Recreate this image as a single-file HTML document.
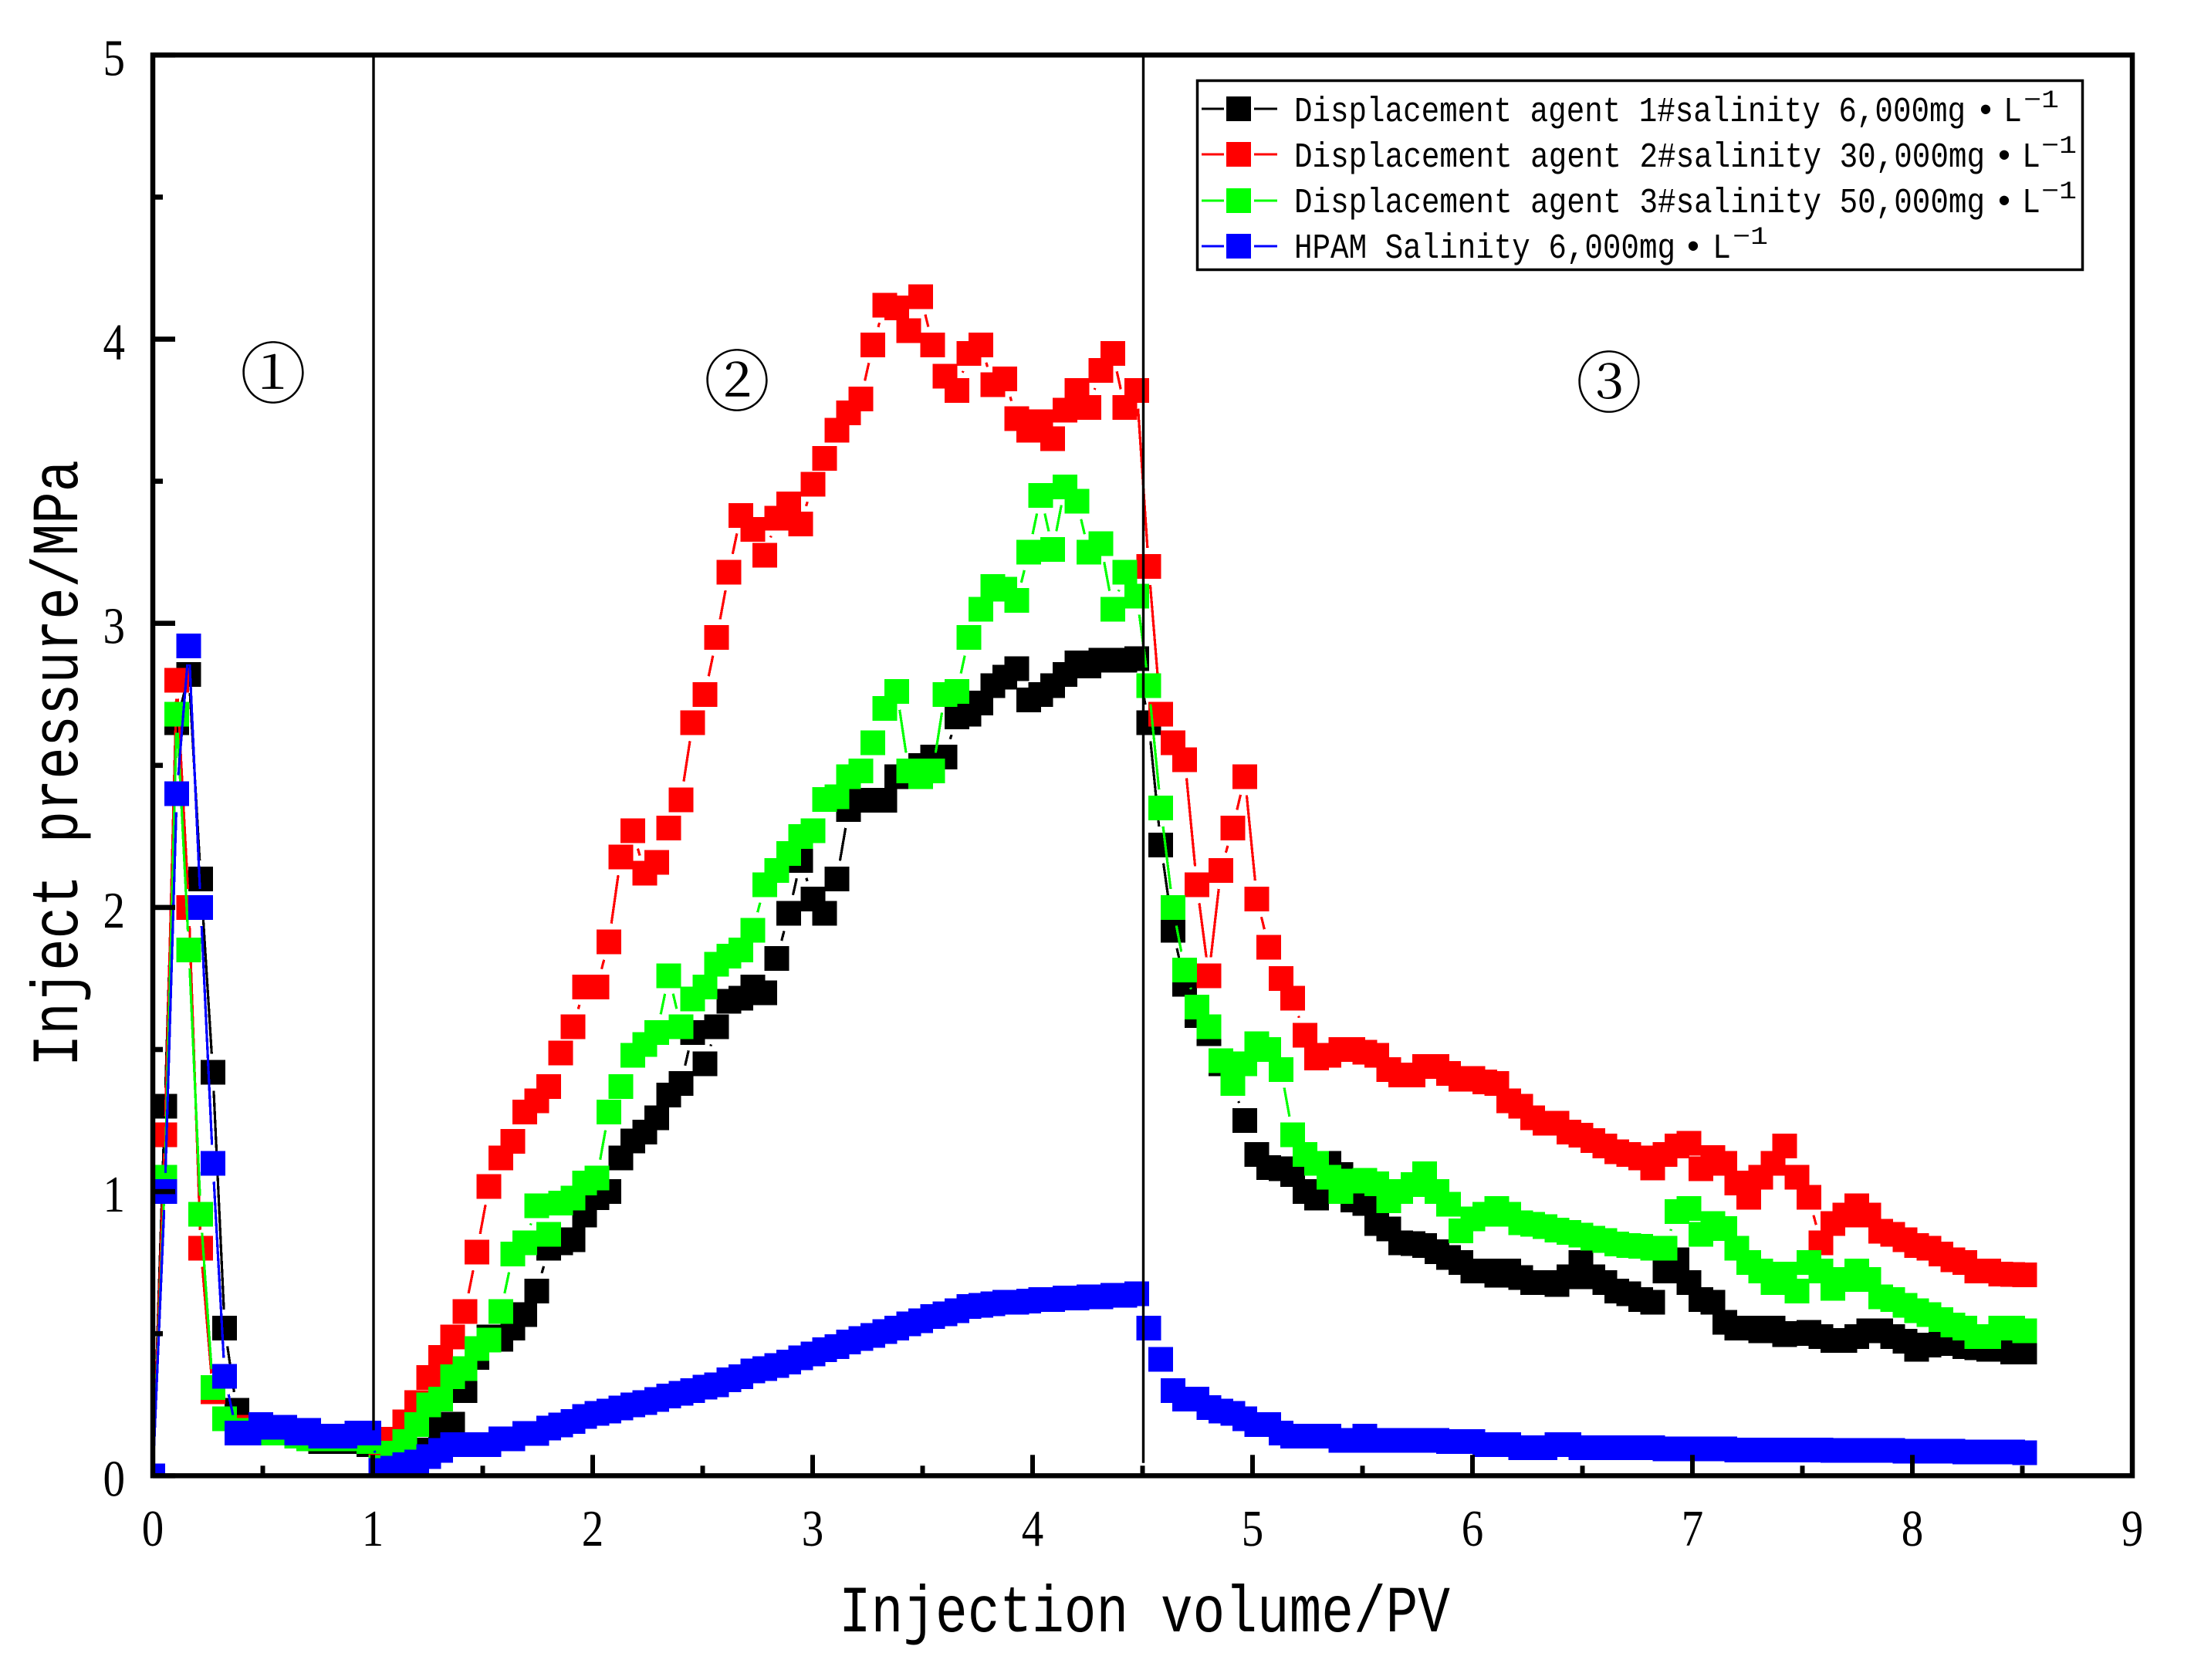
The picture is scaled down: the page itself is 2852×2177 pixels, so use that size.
<!DOCTYPE html>
<html lang="en">
<head>
<meta charset="utf-8">
<title>Inject pressure vs injection volume</title>
<style>
html,body{margin:0;padding:0;background:#fff;}
svg{display:block;}
text{fill:#000;}
.mono{font-family:"Liberation Mono",monospace;}
.serif{font-family:"Liberation Serif",serif;}
.cjk{font-family:"Liberation Serif","Noto Serif CJK SC",serif;}
</style>
</head>
<body>
<svg id="chart" xmlns="http://www.w3.org/2000/svg" width="2852" height="2177" viewBox="0 0 2852 2177">
  <rect x="0" y="0" width="2852" height="2177" fill="#fff"/>
  <defs><clipPath id="plot-clip"><rect x="198" y="71" width="2565" height="1841"/></clipPath></defs>
  <g id="series-layer" clip-path="url(#plot-clip)" shape-rendering="crispEdges"></g>
  <g id="axes-layer"></g>

  <text class="mono" x="1087" y="2114" font-size="85" textLength="792" lengthAdjust="spacingAndGlyphs">Injection volume/PV</text>
  <text class="mono" transform="translate(100,1382) rotate(-90)" x="0" y="0" font-size="85" textLength="786" lengthAdjust="spacingAndGlyphs">Inject pressure/MPa</text>

  <text class="cjk" x="354" y="515" font-size="86" text-anchor="middle">①</text>
  <text class="cjk" x="955" y="525" font-size="86" text-anchor="middle">②</text>
  <text class="cjk" x="2085" y="527" font-size="86" text-anchor="middle">③</text>

  <g>
    <rect x="1551.5" y="104.5" width="1147" height="245" fill="#fff" stroke="#000" stroke-width="3.5"/>

    <g>
      <line x1="1557" y1="141" x2="1586" y2="141" stroke="#000" stroke-width="3"/>
      <line x1="1625" y1="141" x2="1655" y2="141" stroke="#000" stroke-width="3"/>
      <rect x="1589" y="125" width="32" height="32" fill="#000"/>
      <text class="mono" x="1677" y="157" font-size="45" textLength="870" lengthAdjust="spacingAndGlyphs">Displacement agent 1#salinity 6,000mg</text>
      <text class="mono" x="2573" y="157" font-size="45" text-anchor="middle">•</text>
      <text class="mono" x="2596" y="157" font-size="45" textLength="24" lengthAdjust="spacingAndGlyphs">L</text>
      <text class="mono" x="2622" y="139" font-size="32" textLength="46" lengthAdjust="spacingAndGlyphs">−1</text>
    </g>

    <g>
      <line x1="1557" y1="200" x2="1586" y2="200" stroke="#f00" stroke-width="3"/>
      <line x1="1625" y1="200" x2="1655" y2="200" stroke="#f00" stroke-width="3"/>
      <rect x="1589" y="184" width="32" height="32" fill="#f00"/>
      <text class="mono" x="1677" y="216" font-size="45" textLength="895" lengthAdjust="spacingAndGlyphs">Displacement agent 2#salinity 30,000mg</text>
      <text class="mono" x="2597" y="216" font-size="45" text-anchor="middle">•</text>
      <text class="mono" x="2620" y="216" font-size="45" textLength="24" lengthAdjust="spacingAndGlyphs">L</text>
      <text class="mono" x="2645" y="198" font-size="32" textLength="46" lengthAdjust="spacingAndGlyphs">−1</text>
    </g>

    <g>
      <line x1="1557" y1="260" x2="1586" y2="260" stroke="#0f0" stroke-width="3"/>
      <line x1="1625" y1="260" x2="1655" y2="260" stroke="#0f0" stroke-width="3"/>
      <rect x="1589" y="244" width="32" height="32" fill="#0f0"/>
      <text class="mono" x="1677" y="275" font-size="45" textLength="895" lengthAdjust="spacingAndGlyphs">Displacement agent 3#salinity 50,000mg</text>
      <text class="mono" x="2597" y="275" font-size="45" text-anchor="middle">•</text>
      <text class="mono" x="2620" y="275" font-size="45" textLength="24" lengthAdjust="spacingAndGlyphs">L</text>
      <text class="mono" x="2645" y="257" font-size="32" textLength="46" lengthAdjust="spacingAndGlyphs">−1</text>
    </g>

    <g>
      <line x1="1557" y1="319" x2="1586" y2="319" stroke="#00f" stroke-width="3"/>
      <line x1="1625" y1="319" x2="1655" y2="319" stroke="#00f" stroke-width="3"/>
      <rect x="1589" y="303" width="32" height="32" fill="#00f"/>
      <text class="mono" x="1677" y="334" font-size="45" textLength="494" lengthAdjust="spacingAndGlyphs">HPAM Salinity 6,000mg</text>
      <text class="mono" x="2194" y="334" font-size="45" text-anchor="middle">•</text>
      <text class="mono" x="2219" y="334" font-size="45" textLength="24" lengthAdjust="spacingAndGlyphs">L</text>
      <text class="mono" x="2245" y="316" font-size="32" textLength="46" lengthAdjust="spacingAndGlyphs">−1</text>
    </g>
  </g>
</svg>

<script>
var injectionVolume = [
0,0.055,0.109,0.164,0.218,0.273,0.327,0.382,0.436,0.491,
0.546,0.600,0.655,0.709,0.764,0.818,0.873,0.928,0.982,1.037,
1.091,1.146,1.200,1.255,1.309,1.364,1.419,1.473,1.528,1.582,
1.637,1.691,1.746,1.800,1.855,1.910,1.964,2.019,2.073,2.128,
2.182,2.237,2.292,2.346,2.401,2.455,2.510,2.564,2.619,2.673,
2.728,2.783,2.837,2.892,2.946,3.001,3.055,3.110,3.164,3.219,
3.274,3.328,3.383,3.437,3.492,3.546,3.601,3.656,3.710,3.765,
3.819,3.874,3.928,3.983,4.037,4.092,4.147,4.201,4.256,4.310,
4.365,4.419,4.474,4.528,4.583,4.638,4.692,4.747,4.801,4.856,
4.910,4.965,5.020,5.074,5.129,5.183,5.238,5.292,5.347,5.401,
5.456,5.511,5.565,5.620,5.674,5.729,5.783,5.838,5.892,5.947,
6.002,6.056,6.111,6.165,6.220,6.274,6.329,6.384,6.438,6.493,
6.547,6.602,6.656,6.711,6.765,6.820,6.875,6.929,6.984,7.038,
7.093,7.147,7.202,7.256,7.311,7.366,7.420,7.475,7.529,7.584,
7.638,7.693,7.748,7.802,7.857,7.911,7.966,8.020,8.075,8.129,
8.184,8.239,8.293,8.348,8.402,8.457,8.511];

var agent1Pressure = [
0,1.30,2.65,2.82,2.10,1.42,0.52,0.23,0.17,0.16,
0.15,0.15,0.14,0.13,0.12,0.12,0.12,0.12,0.11,0.06,
0.04,0.05,0.07,0.09,0.163,0.182,0.30,0.417,0.489,0.48,
0.52,0.567,0.65,0.80,0.82,0.83,0.918,0.978,1.0,1.119,
1.178,1.21,1.26,1.34,1.38,1.56,1.45,1.58,1.67,1.68,
1.72,1.70,1.82,1.98,2.166,2.03,1.98,2.10,2.344,2.377,
2.377,2.377,2.46,2.48,2.50,2.53,2.53,2.67,2.68,2.72,
2.78,2.81,2.84,2.73,2.75,2.78,2.82,2.86,2.85,2.87,
2.87,2.87,2.875,2.65,2.22,1.92,1.73,1.62,1.556,1.45,
1.38,1.25,1.13,1.085,1.08,1.06,1.0,0.977,1.10,1.06,
0.97,0.958,0.888,0.868,0.82,0.817,0.81,0.788,0.768,0.75,
0.72,0.72,0.706,0.72,0.698,0.68,0.68,0.673,0.70,0.75,
0.70,0.68,0.65,0.64,0.62,0.61,0.72,0.76,0.68,0.62,
0.61,0.54,0.52,0.52,0.51,0.52,0.497,0.50,0.505,0.49,
0.476,0.476,0.49,0.51,0.51,0.49,0.474,0.445,0.46,0.47,
0.465,0.455,0.45,0.445,0.445,0.435,0.435];

var agent2Pressure = [
0,1.20,2.80,2.00,0.80,0.295,0.20,0.17,0.16,0.16,
0.16,0.16,0.15,0.15,0.14,0.14,0.14,0.14,0.13,0.04,
0.129,0.19,0.258,0.346,0.417,0.489,0.578,0.787,1.018,1.118,
1.177,1.28,1.32,1.369,1.488,1.58,1.72,1.72,1.879,2.178,
2.27,2.12,2.159,2.279,2.379,2.65,2.75,2.95,3.18,3.38,
3.33,3.24,3.37,3.42,3.35,3.49,3.58,3.68,3.74,3.79,
3.98,4.12,4.11,4.03,4.15,3.98,3.87,3.82,3.95,3.98,
3.84,3.86,3.72,3.68,3.71,3.65,3.75,3.82,3.76,3.89,
3.95,3.76,3.82,3.20,2.68,2.58,2.52,2.08,1.76,2.13,
2.28,2.46,2.03,1.86,1.75,1.68,1.55,1.47,1.48,1.50,
1.50,1.49,1.48,1.43,1.41,1.41,1.44,1.44,1.416,1.396,
1.398,1.386,1.38,1.32,1.30,1.26,1.24,1.24,1.21,1.198,
1.18,1.16,1.14,1.13,1.119,1.083,1.13,1.16,1.17,1.08,
1.12,1.10,1.03,0.98,1.05,1.10,1.16,1.05,0.98,0.82,
0.888,0.918,0.95,0.918,0.86,0.85,0.83,0.81,0.80,0.78,
0.76,0.75,0.72,0.72,0.71,0.708,0.707];

var agent3Pressure = [
0,1.05,2.68,1.85,0.92,0.31,0.20,0.16,0.15,0.15,
0.15,0.15,0.14,0.13,0.13,0.13,0.13,0.13,0.12,0.03,
0.079,0.12,0.18,0.25,0.27,0.348,0.377,0.448,0.478,0.578,
0.78,0.82,0.95,0.85,0.959,0.977,1.03,1.048,1.28,1.369,
1.48,1.518,1.56,1.76,1.58,1.678,1.72,1.80,1.828,1.85,
1.92,2.08,2.13,2.19,2.25,2.27,2.38,2.39,2.46,2.48,
2.58,2.70,2.76,2.48,2.46,2.48,2.75,2.76,2.95,3.05,
3.13,3.12,3.08,3.25,3.45,3.26,3.48,3.43,3.25,3.28,
3.05,3.18,3.095,2.78,2.35,2.00,1.78,1.65,1.58,1.46,
1.38,1.45,1.52,1.50,1.43,1.20,1.13,1.10,1.05,1.00,
1.037,1.04,1.027,0.968,1.0,1.025,1.063,1.00,0.955,0.862,
0.904,0.92,0.94,0.92,0.89,0.885,0.877,0.865,0.856,0.847,
0.836,0.828,0.816,0.81,0.808,0.80,0.80,0.93,0.94,0.85,
0.888,0.87,0.80,0.75,0.72,0.68,0.71,0.65,0.75,0.72,
0.66,0.69,0.72,0.69,0.63,0.62,0.60,0.58,0.567,0.55,
0.53,0.52,0.49,0.49,0.52,0.52,0.51];

var hpamPressure = [
0,1.00,2.40,2.92,2.00,1.10,0.35,0.15,0.15,0.18,
0.17,0.17,0.15,0.16,0.14,0.14,0.14,0.15,0.15,0.019,
0.027,0.039,0.049,0.068,0.089,0.109,0.109,0.109,0.109,0.13,
0.13,0.149,0.149,0.168,0.179,0.191,0.209,0.22,0.228,0.239,
0.25,0.258,0.269,0.281,0.29,0.30,0.312,0.32,0.337,0.348,
0.369,0.377,0.388,0.40,0.415,0.429,0.443,0.454,0.47,0.483,
0.494,0.508,0.52,0.535,0.545,0.56,0.57,0.58,0.595,0.60,
0.605,0.61,0.61,0.615,0.62,0.62,0.625,0.625,0.63,0.63,
0.635,0.635,0.64,0.52,0.41,0.30,0.27,0.27,0.24,0.228,
0.22,0.20,0.18,0.18,0.15,0.14,0.14,0.14,0.14,0.125,
0.125,0.14,0.125,0.125,0.125,0.125,0.125,0.125,0.12,0.12,
0.12,0.109,0.109,0.109,0.098,0.098,0.098,0.109,0.109,0.098,
0.098,0.098,0.098,0.098,0.098,0.098,0.094,0.094,0.094,0.094,
0.094,0.094,0.091,0.091,0.091,0.091,0.091,0.091,0.091,0.091,
0.089,0.089,0.089,0.089,0.089,0.089,0.086,0.086,0.086,0.086,
0.086,0.083,0.083,0.083,0.083,0.083,0.081];

var xTickValues = [0,1,2,3,4,5,6,7,8,9];
var yTickValues = [0,1,2,3,4,5];
var xMinorValues = [0.5,1.5,2.5,3.5,4.5,5.5,6.5,7.5,8.5];
var yMinorValues = [0.5,1.5,2.5,3.5,4.5];
var dividerValues = [1,4.5];
var dividerLowerEnds = [0.16,0.045];

var svgNS = 'http://www.w3.org/2000/svg';
var plotLeft = 198, plotRight = 2763, plotTop = 71.3, plotBottom = 1912.3;
var xMax = 9, yMax = 5;
var markerSize = 32, lineGap = 24;

function xScale(v){ return plotLeft + (plotRight - plotLeft) * v / xMax; }
function yScale(v){ return plotBottom - (plotBottom - plotTop) * v / yMax; }

function make(tag, attrs){
  var el = document.createElementNS(svgNS, tag);
  for (var k in attrs){ el.setAttribute(k, attrs[k]); }
  return el;
}

function drawSeries(name, color, values){
  var layer = document.getElementById('series-layer');
  var group = make('g', {});
  
  
  layer.appendChild(group);
  for (var i = 0; i < values.length - 1; i++){
    var x1 = xScale(injectionVolume[i]), y1 = yScale(values[i]);
    var x2 = xScale(injectionVolume[i + 1]), y2 = yScale(values[i + 1]);
    var dx = x2 - x1, dy = y2 - y1, len = Math.sqrt(dx * dx + dy * dy);
    if (len <= lineGap * 2) continue;
    var ux = dx / len, uy = dy / len;
    var seg = make('line', {
      x1: x1 + ux * lineGap, y1: y1 + uy * lineGap,
      x2: x2 - ux * lineGap, y2: y2 - uy * lineGap,
      stroke: color, 'stroke-width': 3.2
    });
    
    
    group.appendChild(seg);
  }
  for (var j = 0; j < values.length; j++){
    var m = make('rect', {
      x: xScale(injectionVolume[j]) - markerSize / 2,
      y: yScale(values[j]) - markerSize / 2,
      width: markerSize, height: markerSize, fill: color
    });
    
    
    group.appendChild(m);
  }
}

function drawAxes(){
  var axes = document.getElementById('axes-layer');
  dividerValues.forEach(function(v, idx){
    var d = make('line', {
      x1: xScale(v) + 1, x2: xScale(v) + 1,
      y1: plotTop, y2: yScale(dividerLowerEnds[idx]),
      stroke: '#000', 'stroke-width': 3.4
    });
    
    
    axes.appendChild(d);
  });
  var frame = make('rect', {
    x: plotLeft, y: plotTop, width: plotRight - plotLeft, height: plotBottom - plotTop,
    fill: 'none', stroke: '#000', 'stroke-width': 6.5
  });
  
  
  axes.appendChild(frame);

  xTickValues.forEach(function(v){
    var t = make('rect', { x: xScale(v) - 3, y: plotBottom - 27, width: 6, height: 27, fill: '#000' });
    
    
    axes.appendChild(t);
    var label = make('text', { transform: 'translate(' + xScale(v) + ',2003) scale(0.85,1)', 'text-anchor': 'middle', 'font-size': 67, class: 'serif' });
    
    
    label.textContent = String(v);
    axes.appendChild(label);
  });
  xMinorValues.forEach(function(v){
    var t = make('rect', { x: xScale(v) - 3, y: plotBottom - 13, width: 6, height: 13, fill: '#000' });
    
    
    axes.appendChild(t);
  });
  yTickValues.forEach(function(v){
    var t = make('rect', { x: plotLeft, y: yScale(v) - 3.3, width: 29, height: 6.6, fill: '#000' });
    
    
    axes.appendChild(t);
    var label = make('text', { transform: 'translate(162,' + (yScale(v) + 26) + ') scale(0.85,1)', 'text-anchor': 'end', 'font-size': 67, class: 'serif' });
    
    
    label.textContent = String(v);
    axes.appendChild(label);
  });
  yMinorValues.forEach(function(v){
    var t = make('rect', { x: plotLeft, y: yScale(v) - 3.3, width: 13, height: 6.6, fill: '#000' });
    
    
    axes.appendChild(t);
  });
}

drawSeries('agent-1', '#000', agent1Pressure);
drawSeries('agent-2', '#f00', agent2Pressure);
drawSeries('agent-3', '#0f0', agent3Pressure);
drawSeries('hpam', '#00f', hpamPressure);
drawAxes();
</script>
</body>
</html>
